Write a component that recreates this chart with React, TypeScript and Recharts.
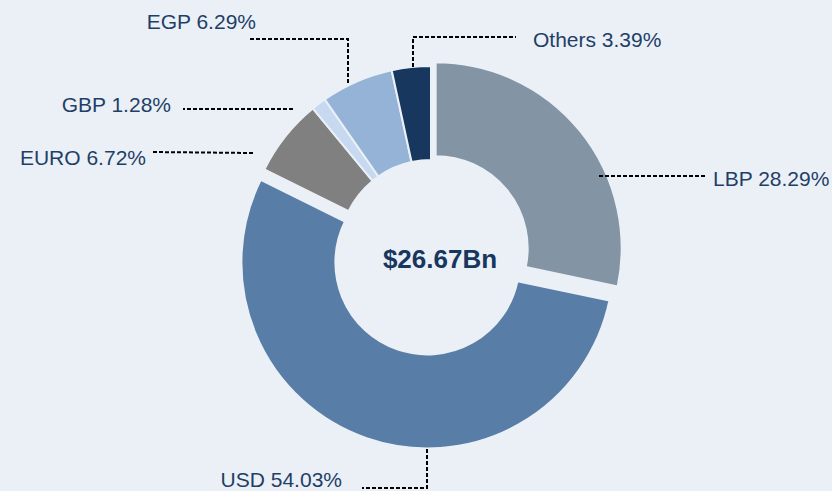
import React from 'react';
import { Cell, Label, Pie, PieChart } from 'recharts';

const currencies = ['LBP', 'USD', 'EURO', 'GBP', 'EGP', 'Others'];
const shares = [28.29, 54.03, 6.72, 1.28, 6.29, 3.39];
const totalLabel = '$26.67Bn';

const colors = ['#8394A5', '#587EA8', '#808080', '#C6D9F0', '#95B3D7', '#17375E'];
// how far each slice is pulled out from the centre
const explode = [6, 11, 0, 0, 0, 0];

const BG = '#EBF0F7';
const TEXT = '#1F3F66';
const CX = 431;
const CY = 252;
const INNER = 92;
const OUTER = 186;

// leader path and text spot, relative to the pie centre
const labelLayout = [
  { path: [[168, -76], [274, -76]], tx: 282, ty: -66, anchor: 'start' },
  { path: [[-4, 197], [-4, 236], [-69, 236]], tx: -89, ty: 235, anchor: 'end' },
  { path: [[-178, -99], [-280, -100]], tx: -285, ty: -87, anchor: 'end' },
  { path: [[-138, -143], [-248, -143]], tx: -260, ty: -140, anchor: 'end' },
  { path: [[-83, -169], [-83, -213], [-183, -213]], tx: -175, ty: -223, anchor: 'end' },
  { path: [[-18, -185], [-18, -215], [85, -215]], tx: 102, ty: -205, anchor: 'start' },
];

const data = currencies.map((name, i) => ({ name, value: shares[i] }));

const total = shares.reduce((a, b) => a + b, 0);
const offsets = shares.map((v, i) => {
  const before = shares.slice(0, i).reduce((a, b) => a + b, 0);
  const mid = ((before + v / 2) / total) * 2 * Math.PI;
  return { dx: Math.sin(mid) * explode[i], dy: -Math.cos(mid) * explode[i] };
});

const renderLabel = (props: any) => {
  const { index } = props;
  const layout = labelLayout[index];
  const points = layout.path.map(([x, y]) => `${CX + x},${CY + y}`).join(' ');
  return (
    <g key={`lbl-${index}`}>
      <polyline points={points} fill="none" stroke="#000" strokeWidth={2} strokeDasharray="4 2" />
      <text
        x={CX + layout.tx}
        y={CY + layout.ty}
        textAnchor={layout.anchor}
        fill={TEXT}
        fontSize={21}
        fontFamily="'Liberation Sans', Arial, sans-serif"
      >
        {`${currencies[index]} ${shares[index].toFixed(2)}%`}
      </text>
    </g>
  );
};

// groups of slices drawn with the same centre: the fixed ones, then each pulled-out slice
const groups = [[2, 3, 4, 5], [0], [1]];

export default function App() {
  return (
    <div style={{ position: 'absolute', left: 0, top: 0, width: 832, height: 491, background: BG }}>
      <PieChart width={832} height={491} margin={{ top: 0, right: 0, bottom: 0, left: 0 }}>
        {groups.map((group, g) => {
          const lead = group[0];
          const off = group.length === 1 ? offsets[lead] : { dx: 0, dy: 0 };
          const last = g === groups.length - 1;
          return (
            <Pie
              key={g}
              data={data}
              dataKey="value"
              nameKey="name"
              cx={CX + off.dx}
              cy={CY + off.dy}
              innerRadius={INNER}
              outerRadius={OUTER}
              startAngle={90}
              endAngle={-270}
              isAnimationActive={false}
              label={last ? renderLabel : false}
              labelLine={false}
            >
              {data.map((d, i) => (
                <Cell
                  key={d.name}
                  fill={group.includes(i) ? colors[i] : 'transparent'}
                  stroke={group.includes(i) ? BG : 'none'}
                  strokeWidth={2}
                />
              ))}
              {g === 0 && (
                <Label
                  content={() => (
                    <text
                      x={CX + 9}
                      y={CY + 16}
                      textAnchor="middle"
                      fill="#17375E"
                      fontSize={26}
                      fontWeight="bold"
                      fontFamily="'Liberation Sans', Arial, sans-serif"
                    >
                      {totalLabel}
                    </text>
                  )}
                />
              )}
            </Pie>
          );
        })}
      </PieChart>
    </div>
  );
}
